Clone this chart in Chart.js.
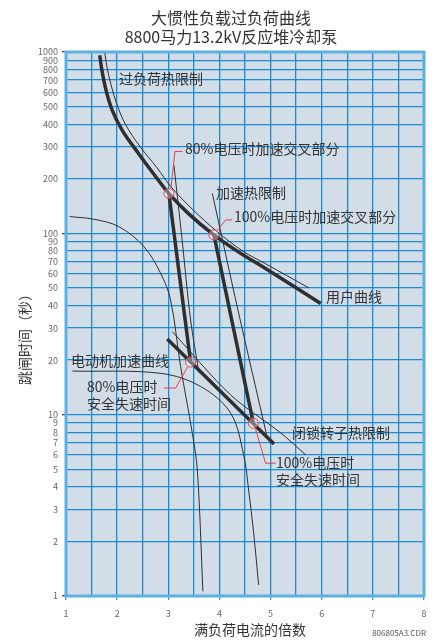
<!DOCTYPE html>
<html><head><meta charset="utf-8">
<script src="https://cdn.jsdelivr.net/npm/chart.js@4.4.1/dist/chart.umd.min.js"></script>
<style>html,body{margin:0;padding:0;background:#fff;}#wrap{width:437px;height:642px;}</style>
</head><body><div id="wrap"><canvas id="c" width="437" height="642"></canvas></div>
<script>
// ---- data (x = multiples of full-load current, y = trip time in seconds) ----
const xTickValues = [1, 2, 3, 4, 5, 6, 7, 8];
const yTickValues = [1,2,3,4,5,6,7,8,9,10,20,30,40,50,60,70,80,90,100,200,300,400,500,600,700,800,900,1000];
const yDecades = [1, 10, 100, 1000];

const userCurveX = [1.66, 1.70, 1.78, 1.90, 2.10, 2.40, 2.70, 3.01, 3.40, 3.89, 4.40, 4.94, 5.98];
const userCurveY = [960, 800, 620, 480, 370, 280, 215, 166, 128, 98, 78, 63, 41];

const overloadLimitX = [1.76, 1.80, 1.88, 1.99, 2.16, 2.45, 2.78, 3.05, 3.48, 3.96, 4.45, 4.90, 5.75];
const overloadLimitY = [985, 830, 660, 520, 400, 300, 230, 181, 135, 102, 80, 68, 50];

const accel80X = [3.012, 3.436];
const accel80Y = [166, 19.5];
const accel100X = [3.892, 4.663];
const accel100Y = [98, 8.97];

const accelLimit80X = [3.11, 3.27, 3.436, 3.6];
const accelLimit80Y = [238, 92, 33.3, 17];
const accelLimit100X = [3.861, 4.362, 4.92];
const accelLimit100Y = [166, 37.8, 7.8];

const lockedRotorX = [2.98, 5.067];
const lockedRotorY = [26.1, 6.89];
const lockedLimitX = [3.078, 4.219, 5.198, 5.687];
const lockedLimitY = [28.7, 12.85, 7.93, 6.0];

const motor80X = [1.074, 1.544, 2.033, 2.523, 2.849, 3.045, 3.241, 3.47, 3.568, 3.677];
const motor80Y = [123.7, 119.6, 108.9, 84.5, 60.3, 42.9, 18.4, 7.89, 4.95, 1.06];
const motor100X = [1.127, 2.849, 3.632, 4.219, 4.474, 4.571, 4.669, 4.767];
const motor100Y = [17.4, 16.9, 14.3, 10.2, 6.0, 3.84, 2.23, 1.15];

const crossX = [3.012, 3.892, 3.436, 4.663];
const crossY = [166, 98, 19.5, 8.97];

// ---- helpers ----
const pts = (xs, ys) => xs.map((x, i) => ({x: x, y: ys[i]}));
const FONT = "'Noto Sans CJK SC','Noto Sans',sans-serif";
const INK = '#2f2f2f';
function lineDs(xs, ys, w, tension) {
  return {data: pts(xs, ys), borderColor: INK, borderWidth: w, pointRadius: 0,
          showLine: true, fill: false, tension: tension || 0,
          cubicInterpolationMode: 'default', borderCapStyle: 'butt'};
}

const datasets = [
  {data: pts(crossX, crossY), showLine: false, pointRadius: 5, pointBorderWidth: 1,
   pointBorderColor: '#e3404b', pointBackgroundColor: 'rgba(255,255,255,0.35)'},
  lineDs(userCurveX, userCurveY, 3.5, 0.35),
  lineDs(overloadLimitX, overloadLimitY, 1, 0.35),
  lineDs(accel80X, accel80Y, 3.5),
  lineDs(accel100X, accel100Y, 3.5),
  lineDs(lockedRotorX, lockedRotorY, 3.5),
  lineDs(accelLimit80X, accelLimit80Y, 1, 0.3),
  lineDs(accelLimit100X, accelLimit100Y, 1, 0.3),
  lineDs(lockedLimitX, lockedLimitY, 1, 0.3),
  lineDs(motor80X, motor80Y, 1, 0.35),
  lineDs(motor100X, motor100Y, 1, 0.35)
];

const labels = [
  {t: ['过负荷热限制'], x: 119, y: 79},
  {t: ['80%电压时加速交叉部分'], x: 185, y: 149},
  {t: ['加速热限制'], x: 216, y: 193},
  {t: ['100%电压时加速交叉部分'], x: 234, y: 217},
  {t: ['用户曲线'], x: 326, y: 297},
  {t: ['电动机加速曲线'], x: 71, y: 361},
  {t: ['80%电压时', '安全失速时间'], x: 87, y: 387},
  {t: ['闭锁转子热限制'], x: 292, y: 433},
  {t: ['100%电压时', '安全失速时间'], x: 276, y: 463}
];
// leader offsets relative to each crossing circle
const leaders = [
  [[2, -5], [6, -42], [13.5, -42]],
  [[3.5, -4.5], [11.7, -15], [18.4, -15]],
  [[-3, 5], [-15, 26], [-26.7, 26]],
  [[2, 5], [12.3, 40], [22.3, 40]]
];

const decor = {
  id: 'decor',
  beforeDraw(chart) {
    const {ctx, chartArea: a} = chart;
    ctx.save();
    ctx.fillStyle = '#ffffff';
    ctx.fillRect(0, 0, chart.width, chart.height);
    ctx.fillStyle = '#d3dde7';
    ctx.fillRect(a.left, a.top, a.right - a.left, a.bottom - a.top);
    ctx.restore();
  },
  beforeDatasetsDraw(chart) {
    const {ctx, chartArea: a} = chart;
    ctx.save();
    ctx.strokeStyle = '#5cb1e2';
    ctx.lineWidth = 3;
    ctx.strokeRect(a.left, a.top, a.right - a.left, a.bottom - a.top);
    ctx.restore();
  },
  afterDatasetsDraw(chart) {
    const {ctx} = chart;
    const xs = chart.scales.x, ys = chart.scales.y;
    ctx.save();
    ctx.strokeStyle = '#e3404b';
    ctx.lineWidth = 1;
    leaders.forEach((L, i) => {
      const cx = xs.getPixelForValue(crossX[i]), cy = ys.getPixelForValue(crossY[i]);
      ctx.beginPath();
      L.forEach((p, j) => { if (j === 0) ctx.moveTo(cx + p[0], cy + p[1]); else ctx.lineTo(cx + p[0], cy + p[1]); });
      ctx.stroke();
    });
    ctx.fillStyle = '#333333';
    ctx.font = '14px ' + FONT;
    ctx.textBaseline = 'middle';
    ctx.textAlign = 'left';
    labels.forEach(l => l.t.forEach((s, k) => ctx.fillText(s, l.x, l.y + k * 17)));
    ctx.restore();
  },
  afterDraw(chart) {
    const {ctx} = chart;
    ctx.save();
    ctx.fillStyle = '#333333';
    ctx.textBaseline = 'middle';
    ctx.textAlign = 'center';
    ctx.font = '16px ' + FONT;
    ctx.fillText('大惯性负载过负荷曲线', 231, 18);
    ctx.fillText('8800马力13.2kV反应堆冷却泵', 231, 37);
    ctx.font = '14px ' + FONT;
    ctx.fillText('满负荷电流的倍数', 250, 630);
    ctx.save();
    ctx.translate(25, 336);
    ctx.rotate(-Math.PI / 2);
    ctx.fillText('跳闸时间（秒）', 0, 0);
    ctx.restore();
    ctx.font = '8px ' + FONT;
    ctx.fillStyle = '#555555';
    ctx.textAlign = 'right';
    ctx.fillText('806805A3.CDR', 426, 633);
    ctx.restore();
  }
};

new Chart(document.getElementById('c'), {
  type: 'scatter',
  data: {datasets: datasets},
  options: {
    responsive: false, animation: false, devicePixelRatio: 1,
    layout: {padding: {top: 52, right: 13, bottom: 0, left: 0}},
    plugins: {legend: {display: false}, tooltip: {enabled: false}, title: {display: false}},
    scales: {
      x: {
        type: 'linear', min: 1, max: 8,
        afterFit: s => { s.height = 46; },
        ticks: {stepSize: 0.5, autoSkip: false, maxRotation: 0, padding: 8,
                color: '#666', font: {size: 9, family: FONT},
                callback: v => xTickValues.includes(v) ? String(v) : ''},
        grid: {color: '#1a8bd4', lineWidth: 1.3, tickLength: 4,
               tickColor: c => (c.tick && xTickValues.includes(c.tick.value)) ? '#3a9ad8' : 'rgba(0,0,0,0)'},
        border: {display: false}
      },
      y: {
        type: 'logarithmic', min: 1, max: 1000,
        afterFit: s => { s.width = 66; },
        afterBuildTicks: s => { s.ticks = yTickValues.map(v => ({value: v})); },
        ticks: {autoSkip: false, padding: 4, color: '#666', font: {size: 9, family: FONT},
                callback: v => String(v)},
        grid: {color: '#1a8bd4', lineWidth: 1.3, tickLength: 4,
               tickColor: c => (c.tick && yDecades.includes(c.tick.value)) ? '#444' : 'rgba(0,0,0,0)'},
        border: {display: false}
      }
    }
  },
  plugins: [decor]
});
</script></body></html>
